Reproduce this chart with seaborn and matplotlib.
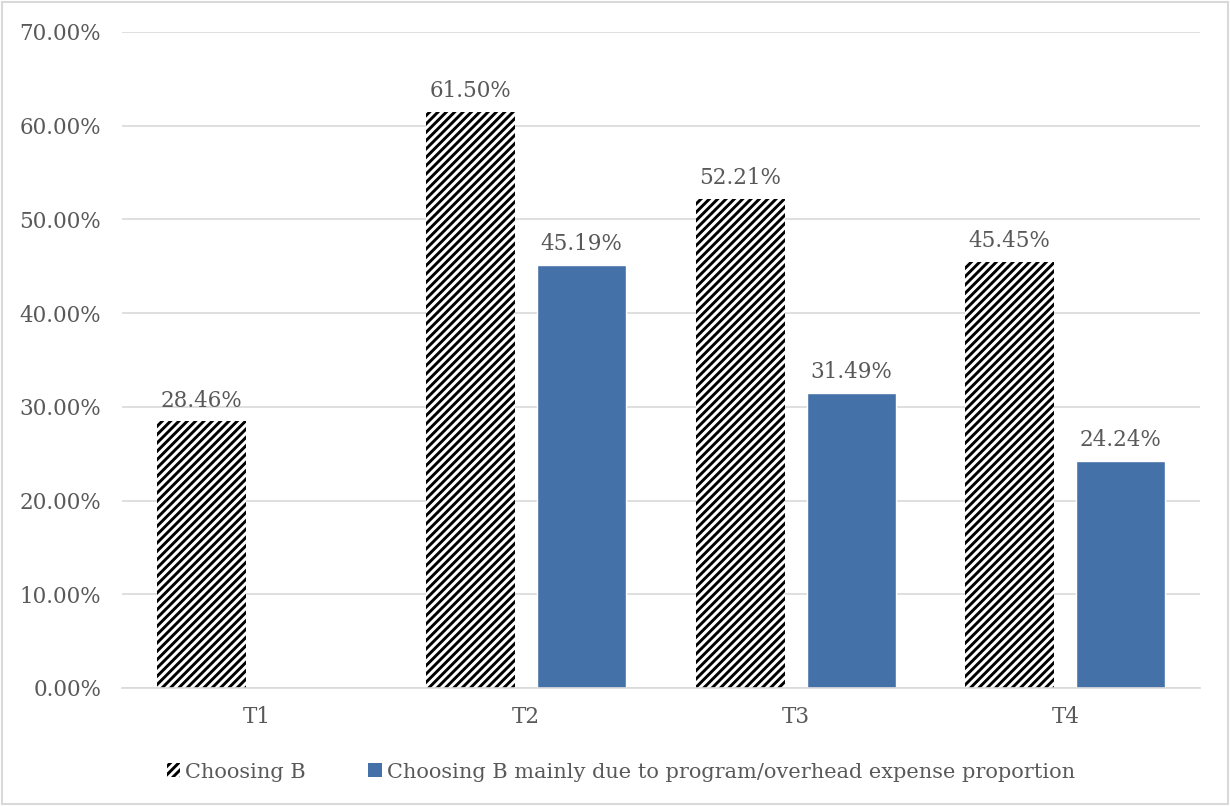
import matplotlib
matplotlib.use("Agg")
import matplotlib.pyplot as plt
import seaborn as sns
import pandas as pd
import numpy as np
from matplotlib.ticker import FuncFormatter, MultipleLocator
from matplotlib.patches import Rectangle

categories = ["T1", "T2", "T3", "T4"]
series_names = ["Choosing B", "Choosing B mainly due to program/overhead expense proportion"]
choosing_b = [28.46, 61.50, 52.21, 45.45]
choosing_b_mainly = [np.nan, 45.19, 31.49, 24.24]

df = pd.DataFrame({
    "cat": categories * 2,
    "series": [series_names[0]] * 4 + [series_names[1]] * 4,
    "val": choosing_b + choosing_b_mainly,
})

sns.set_theme(style="white")
plt.rcParams['font.family'] = ['DejaVu Serif']
plt.rcParams['hatch.linewidth'] = 2.1
plt.rcParams['hatch.color'] = 'black'

text_color = "#595959"
blue = "#4472a8"
fs = 15.5

fig = plt.figure(figsize=(12.3, 8.06), dpi=100)
ax = fig.add_axes([122/1230, 1 - 688/806, (1200-122)/1230, (688-32)/806])

sns.barplot(data=df, x="cat", y="val", hue="series", hue_order=series_names,
            order=categories, palette=["white", blue], width=0.824, gap=0.2,
            ax=ax, legend=False, saturation=1)

hatch = "////"
for i, cont in enumerate(ax.containers):
    for bar in cont:
        if bar is None:
            continue
        if i == 0:
            bar.set_hatch(hatch)
            bar.set_edgecolor("black")
            bar.set_linewidth(0)
        h = bar.get_height()
        if np.isnan(h) or h == 0:
            continue
        ax.annotate(f"{h:.2f}%", (bar.get_x() + bar.get_width() / 2, h),
                    xytext=(0, 7), textcoords="offset points", ha="center", va="bottom",
                    fontsize=fs, color=text_color)

ax.set_ylim(0, 70)
ax.set_xlim(-0.5, 3.5)
ax.yaxis.set_major_locator(MultipleLocator(10))
ax.yaxis.set_major_formatter(FuncFormatter(lambda v, p: f"{v:.2f}%"))
ax.grid(axis="y", color="#d9d9d9", linewidth=1.2)
ax.set_axisbelow(True)
for s in ["top", "right", "left"]:
    ax.spines[s].set_visible(False)
ax.spines["bottom"].set_color("#d9d9d9")
ax.spines["bottom"].set_linewidth(1.2)
ax.tick_params(axis="both", labelsize=fs, colors=text_color, length=0)
ax.tick_params(axis="y", pad=15)
ax.tick_params(axis="x", pad=13)
ax.set_xlabel("")
ax.set_ylabel("")

h1 = Rectangle((0, 0), 1, 1, facecolor="white", hatch=hatch, edgecolor="black", linewidth=0)
h2 = Rectangle((0, 0), 1, 1, facecolor=blue, linewidth=0)
leg = fig.legend([h1, h2], series_names, loc="center", bbox_to_anchor=(621/1230, 1 - 772/806),
                 ncol=2, frameon=False, fontsize=15, handlelength=0.65, handleheight=0.65,
                 columnspacing=3.0, handletextpad=0.25)
for t in leg.get_texts():
    t.set_color(text_color)

fig.patches.append(Rectangle((0.002, 0.002), 0.996, 0.996, transform=fig.transFigure,
                             fill=False, edgecolor="#d9d9d9", linewidth=1.5))

fig.savefig("out.png", dpi=100)
